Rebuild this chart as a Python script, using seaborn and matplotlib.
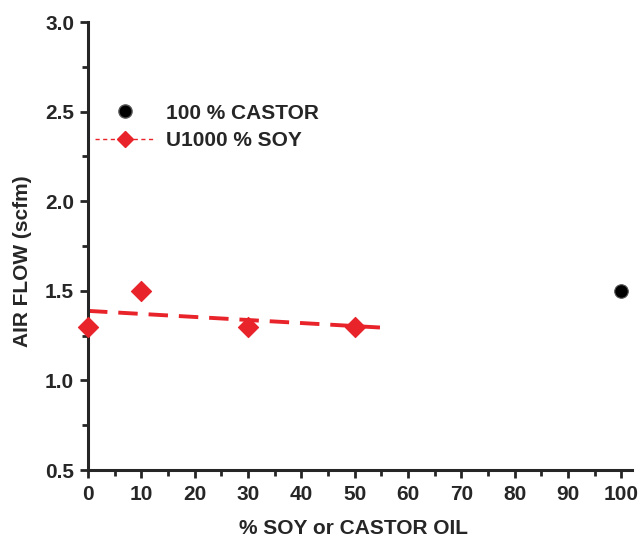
import numpy as np
import pandas as pd
import matplotlib
matplotlib.use("Agg")
import matplotlib.pyplot as plt
import seaborn as sns
from matplotlib.lines import Line2D

# data
soy_pct = [0, 10, 30, 50]
soy_flow = [1.3, 1.5, 1.3, 1.3]
castor_pct = [100]
castor_flow = [1.5]
fit_end = 56
legend_labels = ['100 % CASTOR', 'U1000 % SOY']

red = '#e8232a'

sns.set_style("ticks")
plt.rcParams['font.family'] = ['Liberation Sans', 'DejaVu Sans']
plt.rcParams['font.weight'] = 'bold'

fig = plt.figure(figsize=(6.4, 5.41), dpi=100)
ax = fig.add_axes([0.1375, 0.1312, 0.85, 0.828])

# linear fit through the soy points
slope, icpt = np.polyfit(soy_pct, soy_flow, 1)
fit = pd.DataFrame({'x': [0, fit_end]})
fit['y'] = icpt + slope * fit['x']
sns.lineplot(data=fit, x='x', y='y', ax=ax, color=red, lw=2.8,
             linestyle=(0, (5, 2.8)), zorder=2)

soy = pd.DataFrame({'x': soy_pct, 'y': soy_flow})
castor = pd.DataFrame({'x': castor_pct, 'y': castor_flow})
sns.scatterplot(data=soy, x='x', y='y', ax=ax, marker='D', s=105,
                color=red, edgecolor=red, zorder=3, clip_on=False)
sns.scatterplot(data=castor, x='x', y='y', ax=ax, marker='o', s=95,
                color='black', edgecolor='#555555', linewidth=0.8,
                zorder=3, clip_on=False)

h1 = Line2D([], [], marker='o', color='black', markeredgecolor='#555555',
            markersize=9.5, linestyle='none')
h2 = Line2D([], [], marker='D', color=red, markersize=8.5,
            linestyle=(0, (3, 2.5)), lw=1)
ax.legend([h1, h2], legend_labels, loc='upper left',
          bbox_to_anchor=(0.013, 0.818), frameon=False, fontsize=15,
          borderpad=0, borderaxespad=0, handlelength=2.9,
          handletextpad=0.5, labelspacing=0.4)

ax.set_xlim(0, 102)
ax.set_ylim(0.5, 3.0)
ax.set_xticks(range(0, 101, 10))
ax.set_yticks([0.5, 1.0, 1.5, 2.0, 2.5, 3.0])
ax.set_xticks(range(5, 100, 10), minor=True)
ax.set_yticks([0.75, 1.25, 1.75, 2.25, 2.75], minor=True)
ax.yaxis.set_major_formatter(matplotlib.ticker.FormatStrFormatter('%.1f'))
ax.tick_params(which='major', length=6, width=2, labelsize=15, direction='out')
ax.tick_params(axis='x', which='major', pad=5)
ax.tick_params(axis='y', which='major', pad=4)
ax.tick_params(which='minor', length=4, width=2, direction='out')
for lab in ax.get_xticklabels() + ax.get_yticklabels():
    lab.set_fontweight('bold')

sns.despine(ax=ax)
for s in ['left', 'bottom']:
    ax.spines[s].set_linewidth(2.2)

ax.set_xlabel('% SOY or CASTOR OIL', fontsize=15, fontweight='bold')
ax.set_ylabel('AIR FLOW (scfm)', fontsize=15, fontweight='bold')
ax.xaxis.set_label_coords(0.488, -0.109)
ax.yaxis.set_label_coords(-0.103, 0.467)

fig.savefig('out.png', dpi=100)
